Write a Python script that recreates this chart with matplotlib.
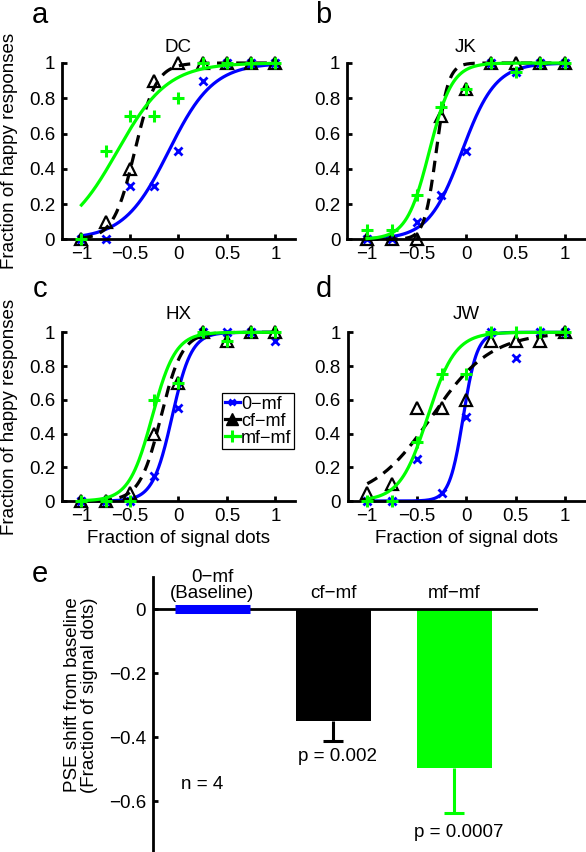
import numpy as np
import matplotlib
matplotlib.use("Agg")
import matplotlib.pyplot as plt
from matplotlib.lines import Line2D

plt.rcParams['font.family'] = ['Liberation Sans', 'DejaVu Sans']
plt.rcParams['axes.unicode_minus'] = True

# ---------------- data ----------------
signal_levels = [-1, -0.75, -0.5, -0.25, 0, 0.25, 0.5, 0.75, 1]
conditions = ['0\u2212mf', 'cf\u2212mf', 'mf\u2212mf']
subjects = ['DC', 'JK', 'HX', 'JW']
panel_letters = ['a', 'b', 'c', 'd']

# fraction of happy responses per subject (blue 0-mf, black cf-mf, green mf-mf)
dc_0mf = [0.0, 0.0, 0.30, 0.30, 0.50, 0.90, 1.0, 1.0, 1.0]
dc_cfmf = [0.0, 0.10, 0.40, 0.90, 1.0, 1.0, 1.0, 1.0, 1.0]
dc_mfmf = [0.0, 0.50, 0.70, 0.70, 0.80, 1.0, 1.0, 1.0, 1.0]

jk_0mf = [0.0, 0.0, 0.10, 0.25, 0.50, 1.0, 0.95, 1.0, 1.0]
jk_cfmf = [0.0, 0.0, 0.0, 0.70, 0.85, 1.0, 1.0, 1.0, 1.0]
jk_mfmf = [0.05, 0.05, 0.25, 0.75, 0.85, 1.0, 0.95, 1.0, 1.0]

hx_0mf = [0.0, 0.0, 0.0, 0.15, 0.55, 1.0, 1.0, 1.0, 0.95]
hx_cfmf = [0.0, 0.0, 0.05, 0.40, 0.70, 1.0, 0.95, 1.0, 1.0]
hx_mfmf = [0.0, 0.0, 0.0, 0.60, 0.70, 1.0, 0.95, 1.0, 1.0]

jw_0mf = [0.0, 0.0, 0.25, 0.05, 0.50, 1.0, 0.85, 1.0, 1.0]
jw_cfmf = [0.05, 0.10, 0.55, 0.55, 0.60, 0.95, 0.95, 0.95, 1.0]
jw_mfmf = [0.0, 0.0, 0.35, 0.75, 0.75, 1.0, 1.0, 1.0, 1.0]

# fitted psychometric functions (logistic): PSE and spread per condition
dc_pse = [-0.10, -0.45, -0.63]
dc_spread = [0.23, 0.11, 0.26]
jk_pse = [-0.04, -0.30, -0.37]
jk_spread = [0.17, 0.06, 0.115]
hx_pse = [-0.065, -0.18, -0.27]
hx_spread = [0.10, 0.11, 0.12]
jw_pse = [-0.03, -0.35, -0.39]
jw_spread = [0.07, 0.30, 0.14]

panel_data = [
    (dc_0mf, dc_cfmf, dc_mfmf, dc_pse, dc_spread),
    (jk_0mf, jk_cfmf, jk_mfmf, jk_pse, jk_spread),
    (hx_0mf, hx_cfmf, hx_mfmf, hx_pse, hx_spread),
    (jw_0mf, jw_cfmf, jw_mfmf, jw_pse, jw_spread),
]

xtick_vals = [-1, -0.5, 0, 0.5, 1]
xtick_labels = ['\u22121', '\u22120.5', '0', '0.5', '1']
ytick_vals = [0, 0.2, 0.4, 0.6, 0.8, 1]
ytick_labels = ['0', '0.2', '0.4', '0.6', '0.8', '1']

# panel e: PSE shift from baseline
bar_labels = ['0\u2212mf\n(Baseline)', 'cf\u2212mf', 'mf\u2212mf']
pse_shift = [0.0, -0.35, -0.497]
pse_sem = [0.0, 0.0625, 0.14]
p_labels = ['', 'p = 0.002', 'p = 0.0007']
e_ytick_vals = [-0.6, -0.4, -0.2, 0]
e_ytick_labels = ['\u22120.6', '\u22120.4', '\u22120.2', '0']

# ---------------- style ----------------
W, H = 586, 852
BLUE = '#0000ff'
GREEN = '#00ff00'
BLACK = '#000000'
FS = 13.5

fig = plt.figure(figsize=(W / 100, H / 100), dpi=100)


def px_axes(left, top, right, bottom):
    return fig.add_axes([left / W, 1 - bottom / H, (right - left) / W, (bottom - top) / H])


# axes boxes in pixel coordinates (left, top(y=1), right, bottom(y=0))
boxes = [
    (62, 63, 294.8, 239.3),
    (347.2, 63, 584.8, 239.3),
    (62, 332.3, 294.8, 501),
    (347.5, 332.3, 585, 501),
]
letter_pos = [(32, 23), (315, 23), (33, 297), (316, 297)]

for i, (box, pdat) in enumerate(zip(boxes, panel_data)):
    ax = px_axes(*box)
    y0mf, ycf, ymf, pse, spread = pdat
    xs = np.linspace(-1, 1, 300)
    series = [(y0mf, BLUE, 'x', '-', 5.5, 2.0),
              (ycf, BLACK, '^', '--', 8.5, 1.6),
              (ymf, GREEN, '+', '-', 8, 2.2)]
    for k, (yv, col, mk, ls, ms, mew) in enumerate(series):
        fit = 1.0 / (1.0 + np.exp(-(xs - pse[k]) / spread[k]))
        ln, = ax.plot(xs, fit, color=col, lw=2.3, ls=ls, clip_on=False, zorder=2 + k)
        if ls == '--':
            ln.set_dashes((3.6, 2.4))
        if mk == '^':
            ax.plot(signal_levels, yv, ls='none', marker=mk, ms=ms, mfc='none',
                    mec=col, mew=mew, clip_on=False, zorder=2 + k)
        else:
            ax.plot(signal_levels, yv, ls='none', marker=mk, ms=ms,
                    mec=col, mew=mew, clip_on=False, zorder=2 + k)
    ax.set_xlim(-1.2, 1.2)
    ax.set_ylim(0, 1)
    for s in ['top', 'right']:
        ax.spines[s].set_visible(False)
    for s in ['left', 'bottom']:
        ax.spines[s].set_linewidth(2)
    ax.set_xticks(xtick_vals)
    ax.set_xticklabels(xtick_labels)
    ax.set_yticks(ytick_vals)
    ax.set_yticklabels(ytick_labels)
    ax.tick_params(direction='in', length=3.5, width=2, labelsize=FS, pad=5)
    hpx = box[3] - box[1]
    ttl_base = 52 if i < 2 else 319
    ax.text(0.5, (box[3] - ttl_base) / hpx, subjects[i], transform=ax.transAxes,
            ha='center', va='baseline', fontsize=FS)
    lx, ly = letter_pos[i]
    fig.text(lx / W, 1 - ly / H, panel_letters[i], fontsize=21, va='baseline', ha='left')
    if i % 2 == 0:
        ax.set_ylabel('Fraction of happy responses', fontsize=FS, va='center')
        ax.yaxis.set_label_coords((9 - box[0]) / (box[2] - box[0]), 0.5)
    if i >= 2:
        ax.set_xlabel('Fraction of signal dots', fontsize=FS, va='baseline')
        ax.xaxis.set_label_coords(0.5, (box[3] - 543) / hpx)
    if i == 2:
        handles = [Line2D([], [], color=BLUE, marker='x', ms=5, mew=2, lw=2.3),
                   Line2D([], [], color=BLACK, marker='^', ms=8, mfc=BLACK, lw=2.3),
                   Line2D([], [], color=GREEN, marker='+', ms=8, mew=2.2, lw=2.3)]
        leg = ax.legend(handles, conditions, loc='upper left',
                        bbox_to_anchor=((222 - box[0]) / (box[2] - box[0]), (box[3] - 393) / hpx),
                        borderaxespad=0, fontsize=FS - 0.5, handlelength=0.85,
                        handletextpad=0.05, borderpad=0.15, labelspacing=0.0,
                        fancybox=False, framealpha=1, edgecolor='black')
        leg.get_frame().set_linewidth(0.9)

# ---------------- panel e ----------------
e_left, e_top, e_right = 153, 577, 538
e_ylim = (-0.8, 0.1)
e_bottom = e_top + (e_ylim[1] - e_ylim[0]) * 320
axe = px_axes(e_left, e_top, e_right, e_bottom)
xpos = np.arange(1, len(pse_shift) + 1)
colors = [BLUE, BLACK, GREEN]
bw = 0.62
for xi, v, err, col in zip(xpos, pse_shift, pse_sem, colors):
    if v == 0:
        axe.plot([xi - bw / 2, xi + bw / 2], [v, v], color=col, lw=6.5,
                 solid_capstyle='butt', zorder=4)
    else:
        axe.bar(xi, v, width=bw, color=col, zorder=2)
        eb = axe.errorbar(xi, v, yerr=[[err], [0]], fmt='none', ecolor=col,
                          elinewidth=2.2, capsize=7.5, capthick=2.2, zorder=1)
        for cap in eb[1]:
            if np.allclose(cap.get_ydata(), v):
                cap.set_visible(False)
axe.axhline(0, color='k', lw=2, zorder=3)
axe.set_xlim(0.512, 3.69)
axe.set_ylim(*e_ylim)
axe.set_xticks([])
axe.set_yticks(e_ytick_vals)
axe.set_yticklabels(e_ytick_labels)
for s in ['top', 'right', 'bottom']:
    axe.spines[s].set_visible(False)
axe.spines['left'].set_linewidth(2)
axe.tick_params(direction='in', length=3.5, width=2, labelsize=FS, pad=5)
for xi, lab in zip(xpos, bar_labels):
    axe.text(xi, 0.034, lab, ha='center', va='baseline', fontsize=FS,
             linespacing=0.95)
p_y = [0, -0.475, -0.7125]
for xi, lab, py in zip(xpos, p_labels, p_y):
    if lab:
        axe.text(xi + 0.035, py, lab, ha='center', va='baseline', fontsize=FS)
axe.text(0.92, -0.5625, 'n = 4', ha='center', va='baseline', fontsize=FS)
axe.set_ylabel('PSE shift from baseline\n(Fraction of signal dots)', fontsize=FS,
               va='center', linespacing=1.05)
axe.yaxis.set_label_coords((81 - e_left) / (e_right - e_left), (e_bottom - 695) / (e_bottom - e_top))
fig.text(32 / W, 1 - 582 / H, 'e', fontsize=21, va='baseline', ha='left')

fig.savefig('out.png', dpi=100)
